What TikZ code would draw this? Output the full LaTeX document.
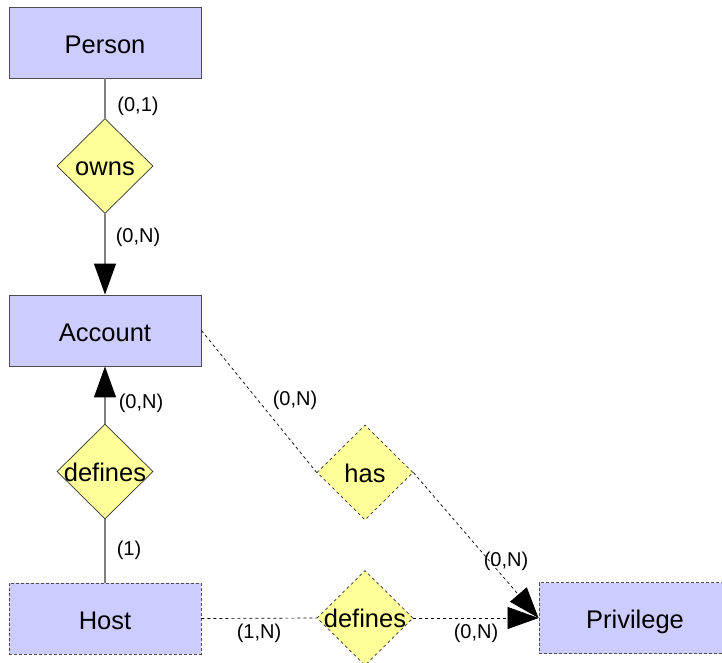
\documentclass[tikz,border=0pt]{standalone}
\usepackage{fontspec}
\setmainfont{Liberation Sans}
\usetikzlibrary{shapes.geometric,arrows.meta}
\definecolor{entityfill}{HTML}{CCCCFF}
\definecolor{relfill}{HTML}{FFFF99}
\definecolor{edgegray}{HTML}{4D4D4D}
\definecolor{linegray}{HTML}{7F7F7F}
\tikzset{
  entity/.style={draw=edgegray, fill=entityfill, line width=0.9pt,
    minimum width=192pt, minimum height=71pt, inner sep=0pt,
    text height=21.2pt, text depth=0pt,
    font=\fontsize{25.5}{29}\selectfont},
  weakentity/.style={entity, dash pattern=on 3pt off 2pt},
  relation/.style={diamond, draw=black!80, fill=relfill, line width=0.7pt,
    minimum width=96pt, minimum height=95pt, inner sep=0pt,
    text height=19.2pt, text depth=0pt,
    font=\fontsize{25.5}{29}\selectfont},
  dashrelation/.style={relation, dash pattern=on 3pt off 3pt},
  solidlink/.style={draw=linegray, line width=1.2pt},
  dashlink/.style={draw=black, line width=0.7pt, dash pattern=on 3pt off 3pt},
  bigtip/.style={-{Triangle[length=31pt,width=22pt,black]}},
  card/.style={inner sep=0pt, font=\fontsize{20}{23}\selectfont},
}
\begin{document}
\begin{tikzpicture}[x=1pt, y=-1pt]
  \useasboundingbox (0,0) rectangle (722,662);
  \clip (0,0) rectangle (722,662);
  \fill[white] (0,0) rectangle (722,662);

  % entities
  \node[entity] (person) at (105,42.5) {Person};
  \node[entity] (account) at (105,330.5) {Account};
  \node[weakentity] (host) at (105,618.5) {Host};
  \node[weakentity] (privilege) at (635,618) {Privilege};

  % relationships
  \node[relation] (owns) at (105,166) {\makebox[0pt]{owns}};
  \node[relation] (defhost) at (105,471.5) {\makebox[0pt]{defines}};
  \node[dashrelation] (has) at (365,472.5) {\makebox[0pt]{has}};
  \node[dashrelation] (defpriv) at (365,618) {\makebox[0pt]{defines}};

  % connectors
  \draw[solidlink] (person.south) -- (owns.north);
  \draw[solidlink, bigtip] (owns.south) -- (account.north);
  \draw[solidlink] (defhost.south) -- (host.north);
  \draw[solidlink, bigtip] (defhost.north) -- (account.south);
  \draw[dashlink] (account.east) -- (has.west);
  \draw[dashlink, bigtip] (has.east) -- (privilege.west);
  \draw[dashlink] (host.east) -- (defpriv.west);
  \draw[dashlink, bigtip] (defpriv.east) -- (privilege.west);

  % cardinalities
  \node[card] (c1) at (138,106) {(0,1)};
  \node[card] (c2) at (138,237) {(0,N)};
  \node[card] (c3) at (141,403) {(0,N)};
  \node[card] (c4) at (129,550) {(1)};
  \node[card] (c5) at (295,400) {(0,N)};
  \node[card] (c6) at (506,561) {(0,N)};
  \node[card] (c7) at (476,633) {(0,N)};
  \node[card] (c8) at (259,633) {(1,N)};
\end{tikzpicture}
\end{document}
